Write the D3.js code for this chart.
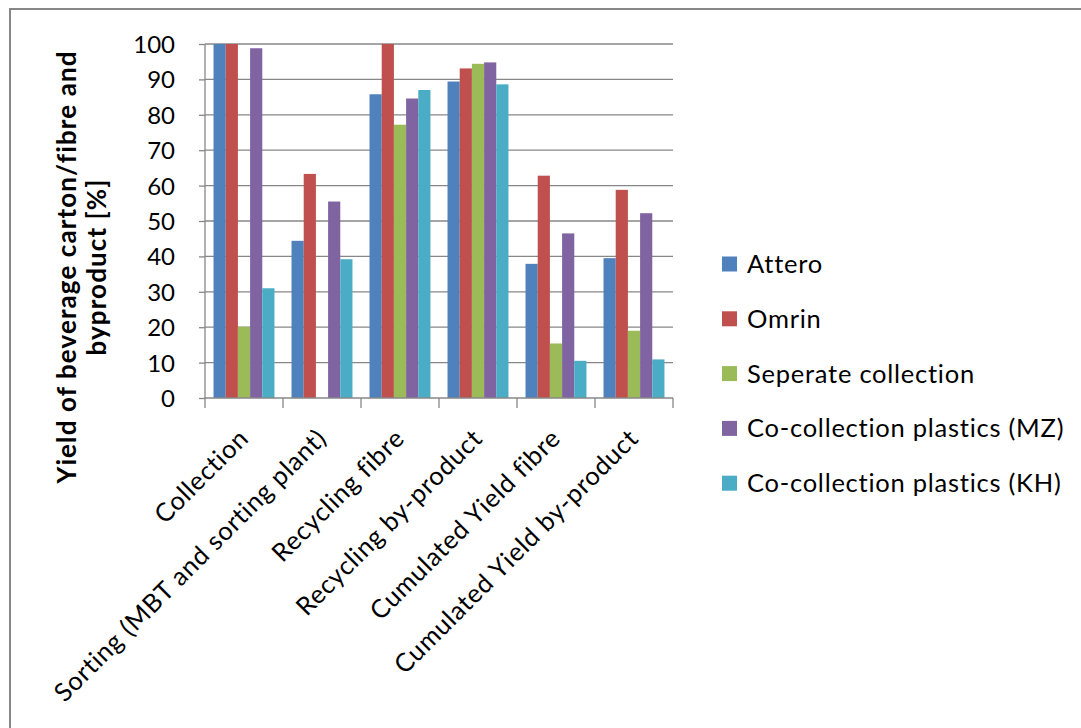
<!DOCTYPE html>
<html><head><meta charset="utf-8">
<script src="https://cdn.jsdelivr.net/npm/d3@7"></script>
<style>
html,body{margin:0;padding:0;background:#fff;}
text{font-family:Lato,"Open Sans",sans-serif;fill:#000;}
</style></head>
<body><svg id="c" width="1081" height="728"></svg>
<script>
const categories = ["Collection","Sorting (MBT and sorting plant)","Recycling fibre","Recycling by-product","Cumulated Yield fibre","Cumulated Yield by-product"];
const seriesNames = ["Attero","Omrin","Seperate collection","Co-collection plastics (MZ)","Co-collection plastics (KH)"];
const attero   = [100, 44.4, 85.8, 89.4, 37.9, 39.5];
const omrin    = [100, 63.3, 100, 93.1, 62.8, 58.8];
const seperate = [20.1, 0, 77.2, 94.4, 15.4, 19.0];
const coMZ     = [98.8, 55.5, 84.6, 94.8, 46.5, 52.2];
const coKH     = [31.0, 39.2, 87.0, 88.6, 10.5, 10.9];
const yTicks = [0,10,20,30,40,50,60,70,80,90,100];
const colors = ["#4F81BD","#C0504D","#9BBB59","#8064A2","#4BACC6"];
const seriesValues = [attero, omrin, seperate, coMZ, coKH];

const svg = d3.select("#c");
const L=205, R=673, T=44, B=398;
const x = d3.scaleBand().domain(categories).range([L,R]).padding(0);
const xi = d3.scaleBand().domain(seriesNames).range([0,x.bandwidth()]).paddingInner(0).paddingOuter(0.7);
const y = d3.scaleLinear().domain([0,100]).range([B,T]);
const grid="#878787";

// outer border
svg.append("rect").attr("x",10).attr("y",9).attr("width",1090).attr("height",740)
  .attr("fill","none").attr("stroke",grid).attr("stroke-width",2);

// gridlines
svg.append("g").selectAll("line").data(yTicks.filter(d=>d>0)).join("line")
  .attr("x1",L).attr("x2",R).attr("y1",d=>y(d)).attr("y2",d=>y(d))
  .attr("stroke",grid).attr("stroke-width",1.3);

// bars
const g = svg.append("g");
categories.forEach((c,ci)=>{
  seriesNames.forEach((s,si)=>{
    const v = seriesValues[si][ci];
    if(v<=0) return;
    g.append("rect").attr("x",x(c)+xi(s)).attr("width",xi.bandwidth())
      .attr("y",y(v)).attr("height",y(0)-y(v)).attr("fill",colors[si]);
  });
});

// y axis
const ya = svg.append("g").attr("transform",`translate(${L},0)`)
  .call(d3.axisLeft(y).tickValues(yTicks).tickSize(6).tickPadding(24));
ya.select(".domain").attr("stroke",grid).attr("stroke-width",1.3).attr("d",`M0,${T}V${B}`);
ya.selectAll(".tick line").attr("stroke",grid).attr("stroke-width",1.3);
ya.selectAll("text").style("font-size","24px").attr("fill","#000").attr("dy","0.35em");

// x axis
const xa = svg.append("g").attr("transform",`translate(0,${B})`);
xa.append("line").attr("x1",L).attr("x2",R).attr("stroke",grid).attr("stroke-width",1.3);
const bounds = categories.map(c=>x(c)).concat([R]);
xa.selectAll("line.t").data(bounds).join("line").attr("class","t")
  .attr("x1",d=>d).attr("x2",d=>d).attr("y1",0).attr("y2",10).attr("stroke",grid).attr("stroke-width",1.3);
xa.selectAll("text").data(categories).join("text")
  .attr("transform",d=>`translate(${x(d)+x.bandwidth()/2+6},${42}) rotate(-45)`)
  .attr("text-anchor","end").style("font-size","25.5px").style("letter-spacing","0.75px").text(d=>d);

// y title
const yt = svg.append("text").attr("transform","translate(76,267) rotate(-90)")
  .attr("text-anchor","middle").style("font-size","26px").style("font-weight","bold").style("letter-spacing","1.1px");
yt.append("tspan").attr("x",0).attr("y",0).text("Yield of beverage carton/fibre and");
yt.append("tspan").attr("x",0).attr("y",30).text("byproduct [%]");

// legend
const lg = svg.append("g").attr("transform","translate(722,264)");
seriesNames.forEach((s,i)=>{
  const row = lg.append("g").attr("transform",`translate(0,${i*54.8})`);
  row.append("rect").attr("x",0).attr("y",-7.5).attr("width",15).attr("height",15).attr("fill",colors[i]);
  row.append("text").attr("x",25).attr("y",0).attr("dy","0.35em").style("font-size","25.5px").style("letter-spacing","0.75px").text(s);
});
</script></body></html>
